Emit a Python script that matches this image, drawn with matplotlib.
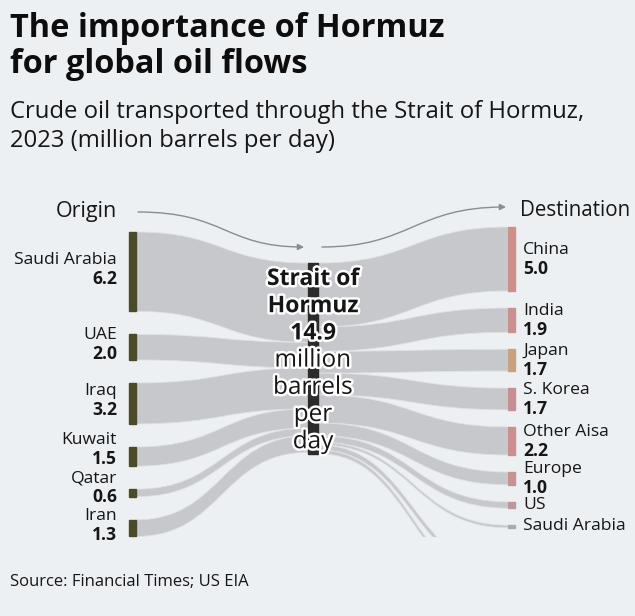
import matplotlib.pyplot as plt
import matplotlib.patheffects as pe
from matplotlib.path import Path
from matplotlib.patches import PathPatch, FancyArrowPatch, Rectangle
import numpy as np

# Crude oil through the Strait of Hormuz, 2023 (million barrels per day)
origins = ["Saudi Arabia", "UAE", "Iraq", "Kuwait", "Qatar", "Iran"]
origin_values = [6.2, 2.0, 3.2, 1.5, 0.6, 1.3]

destinations = ["China", "India", "Japan", "S. Korea", "Other Aisa", "Europe", "US", "Saudi Arabia"]
dest_values = [5.0, 1.9, 1.7, 1.7, 2.2, 1.0, 0.5, 0.2]
dest_labelled = [True, True, True, True, True, True, False, False]
dest_colors = ["#cc8f8a", "#c9908f", "#c8a27f", "#c98e92", "#cc8f8f", "#c49590", "#c0969c", "#a7abb1"]

# flows that leave the bottom of the chart
hidden_values = [0.4, 0.3]

strait_total = 14.9

bg = "#edf0f3"
flow_col = "#c7c8cb"
txt = "#161616"
font = "Open Sans"

scale = 12.8  # px per million barrels
fig = plt.figure(figsize=(6.35, 6.16), dpi=100, facecolor=bg)
ax = fig.add_axes([0, 0, 1, 1])
ax.set_xlim(0, 635)
ax.set_ylim(616, 0)
ax.axis("off")
ax.set_facecolor(bg)


def ribbon(x0, a0, b0, x1, a1, b1, clip=None):
    xm = (x0 + x1) / 2
    verts = [(x0, a0), (xm, a0), (xm, a1), (x1, a1),
             (x1, b1), (xm, b1), (xm, b0), (x0, b0), (x0, a0)]
    codes = [Path.MOVETO, Path.CURVE4, Path.CURVE4, Path.CURVE4,
             Path.LINETO, Path.CURVE4, Path.CURVE4, Path.CURVE4, Path.CLOSEPOLY]
    p = PathPatch(Path(verts, codes), facecolor=flow_col, edgecolor="#dfe1e4", lw=0.6, zorder=1)
    ax.add_patch(p)
    if clip is not None:
        p.set_clip_path(clip)


left_x0, left_x1 = 129, 136
mid_x0, mid_x1 = 308, 318
right_x0, right_x1 = 508, 515
mid_top = 263
lab_size = 12.6

# left side
y = 232
mid_y = mid_top
name_y = []
for v in origin_values:
    h = v * scale
    ax.add_patch(Rectangle((left_x0, y), left_x1 - left_x0, h, color="#4b4a2b", zorder=3))
    ribbon(left_x1, y, y + h, mid_x0, mid_y, mid_y + h)
    name_y.append(y + h / 2 - 12)
    y += h + 23
    mid_y += h

# push label pairs up when they would run into the pair below
for i in range(len(name_y) - 2, -1, -1):
    name_y[i] = min(name_y[i], name_y[i + 1] - 38)

for name, v, ny in zip(origins, origin_values, name_y):
    ax.text(117, ny, name, ha="right", va="center", fontsize=lab_size, family=font, color=txt)
    ax.text(117, ny + 19, f"{v:.1f}", ha="right", va="center", fontsize=lab_size, family=font,
            fontweight="bold", color=txt)

# right side
y = 227
mid_y = mid_top
for name, v, lab, col in zip(destinations, dest_values, dest_labelled, dest_colors):
    h = v * scale
    ax.add_patch(Rectangle((right_x0, y), right_x1 - right_x0, max(h, 2.5), color=col, zorder=3))
    ribbon(mid_x1, mid_y, mid_y + h, right_x0, y, y + h)
    c = y + h / 2
    if lab:
        ax.text(523, c - 9, name, ha="left", va="center", fontsize=lab_size, family=font, color=txt)
        ax.text(523, c + 10, f"{v:.1f}", ha="left", va="center", fontsize=lab_size, family=font,
                fontweight="bold", color=txt)
    else:
        ax.text(523, c, name, ha="left", va="center", fontsize=lab_size, family=font, color=txt)
    y += h + 17
    mid_y += h

clip = Rectangle((0, 0), 635, 537, transform=ax.transData)
ty = 570
for v in hidden_values:
    h = v * scale
    ribbon(mid_x1, mid_y, mid_y + h, right_x0, ty, ty + h, clip=clip)
    mid_y += h
    ty += 18

# middle node
ax.add_patch(Rectangle((mid_x0, mid_top), mid_x1 - mid_x0, strait_total * scale,
                       color="#2b2b2b", zorder=3))
stroke = [pe.withStroke(linewidth=3.5, foreground="white")]
mid_lines = [("Strait of", "bold", 16.5), ("Hormuz", "bold", 16.5), (f"{strait_total:.1f}", "bold", 16.5),
             ("million", "normal", 17.5), ("barrels", "normal", 17.5), ("per", "normal", 17.5),
             ("day", "normal", 17.5)]
for i, (s, w, fs) in enumerate(mid_lines):
    ax.text(313, 279 + i * 27.2, s, ha="center", va="center", fontsize=fs, family=font,
            fontweight=w, color=txt, path_effects=stroke, zorder=5)

# origin / destination arrows
arr1 = Path([(138, 212), (225, 212), (225, 247), (304, 247)],
            [Path.MOVETO, Path.CURVE4, Path.CURVE4, Path.CURVE4])
arr2 = Path([(322, 247), (410, 247), (415, 207), (506, 207)],
            [Path.MOVETO, Path.CURVE4, Path.CURVE4, Path.CURVE4])
for pth in (arr1, arr2):
    ax.add_patch(FancyArrowPatch(path=pth, arrowstyle="-|>", mutation_scale=9,
                                 color="#8a8c8f", lw=1.0, zorder=2))
ax.text(117, 212, "Origin", ha="right", va="center", fontsize=15.5, family=font, color=txt)
ax.text(520, 210, "Destination", ha="left", va="center", fontsize=14.8, family=font, color=txt)

# titles
ax.text(10, 37, "The importance of Hormuz", ha="left", va="baseline", fontsize=23.4,
        family=font, fontweight="bold", color="#0d0d0d")
ax.text(10, 73, "for global oil flows", ha="left", va="baseline", fontsize=23.4,
        family=font, fontweight="bold", color="#0d0d0d")
ax.text(10, 118, "Crude oil transported through the Strait of Hormuz,", ha="left",
        va="baseline", fontsize=17.2, family=font, color=txt)
ax.text(10, 147, "2023 (million barrels per day)", ha="left",
        va="baseline", fontsize=17.2, family=font, color=txt)
ax.text(10, 582, "Source: Financial Times; US EIA", ha="left", va="center",
        fontsize=12, family=font, color=txt)

plt.savefig("out.png", dpi=100, facecolor=bg)
